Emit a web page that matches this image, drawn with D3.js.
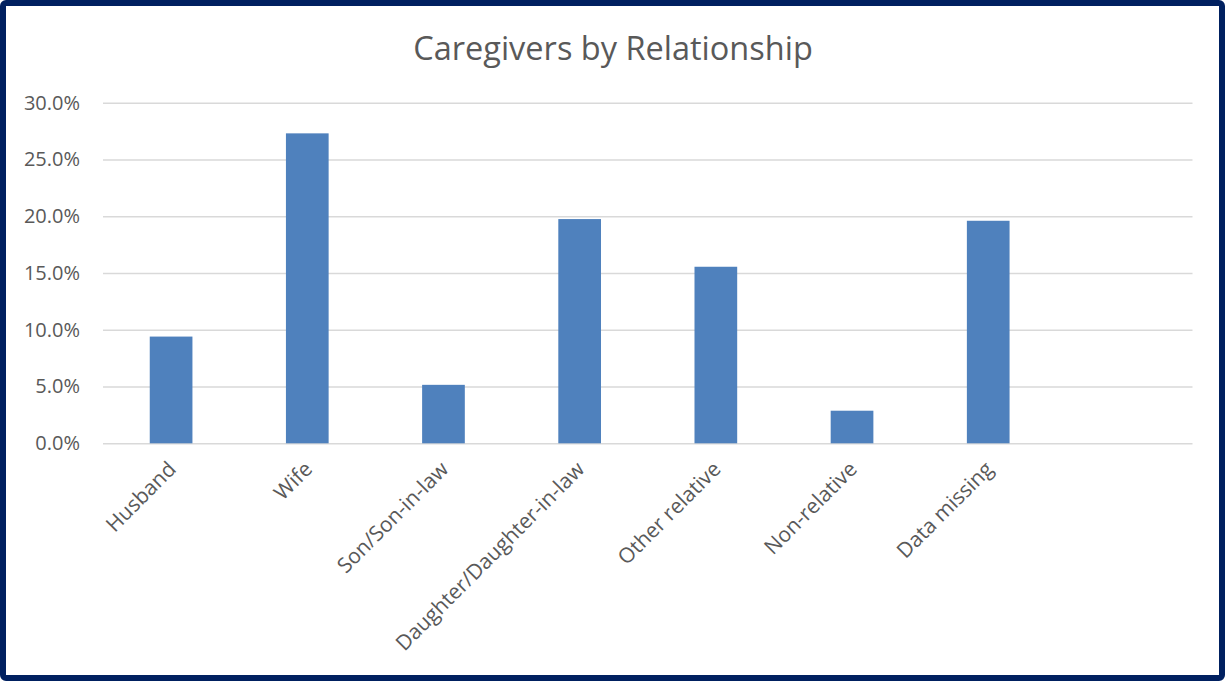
<!DOCTYPE html>
<html>
<head>
<meta charset="utf-8">
<script src="https://cdn.jsdelivr.net/npm/d3@7"></script>
<style>
  html, body { margin: 0; padding: 0; background: #fff; }
  svg { display: block; }
</style>
</head>
<body>
<svg id="chart" width="1225" height="681"></svg>
<script>
// Share of caregivers by relationship to the care recipient
const categories = ["Husband", "Wife", "Son/Son-in-law", "Daughter/Daughter-in-law",
                    "Other relative", "Non-relative", "Data missing", ""];
const shares = [9.4, 27.3, 5.15, 19.75, 15.55, 2.87, 19.6, null];
const yTicks = [0, 5, 10, 15, 20, 25, 30];
const title = "Caregivers by Relationship";

const W = 1225, H = 681;
const svg = d3.select("#chart");
const font = "'Open Sans', 'Noto Sans', sans-serif";
const textGrey = "#595959";

// outer frame
svg.append("rect")
  .attr("x", 3).attr("y", 3)
  .attr("width", W - 6).attr("height", H - 6)
  .attr("rx", 3)
  .attr("fill", "#fff")
  .attr("stroke", "#002060")
  .attr("stroke-width", 6);

const plot = { left: 103, right: 1192.5, top: 102.7, bottom: 443.3 };

const x = d3.scaleBand()
  .domain(categories.map((c, i) => i))
  .range([plot.left, plot.right])
  .paddingInner(0.6865)
  .paddingOuter(0.6865 / 2);

const y = d3.scaleLinear()
  .domain([0, 30])
  .range([plot.bottom, plot.top]);

// title
svg.append("text")
  .attr("x", 613).attr("y", 60)
  .attr("text-anchor", "middle")
  .attr("font-family", font)
  .attr("font-size", 32.5)
  .attr("fill", textGrey)
  .text(title);

// gridlines and value axis
const yAxis = d3.axisLeft(y)
  .tickValues(yTicks)
  .tickSize(-(plot.right - plot.left))
  .tickPadding(23)
  .tickFormat(d => d.toFixed(1) + "%");

const gy = svg.append("g")
  .attr("transform", `translate(${plot.left},0)`)
  .call(yAxis);
gy.select(".domain").remove();
gy.selectAll(".tick line")
  .attr("stroke", "#d9d9d9")
  .attr("stroke-width", 1.5);
gy.selectAll(".tick text")
  .attr("font-family", font)
  .attr("font-size", 20)
  .attr("fill", textGrey);

// bars
svg.append("g")
  .selectAll("rect")
  .data(shares.map((v, i) => ({ i, v })).filter(d => d.v != null))
  .join("rect")
  .attr("x", d => x(d.i))
  .attr("width", x.bandwidth())
  .attr("y", d => y(d.v))
  .attr("height", d => y(0) - y(d.v))
  .attr("fill", "#4f81bd");

// category labels, rotated
const xAxis = d3.axisBottom(x)
  .tickSize(0)
  .tickPadding(0)
  .tickFormat(i => categories[i]);

const gx = svg.append("g")
  .attr("transform", `translate(0,${plot.bottom})`)
  .call(xAxis);
gx.select(".domain").remove();
gx.selectAll(".tick text")
  .attr("font-family", font)
  .attr("font-size", 21)
  .attr("fill", textGrey)
  .attr("text-anchor", "end")
  .attr("dy", "0.35em")
  .attr("transform", "translate(1,22) rotate(-45)");
</script>
</body>
</html>
